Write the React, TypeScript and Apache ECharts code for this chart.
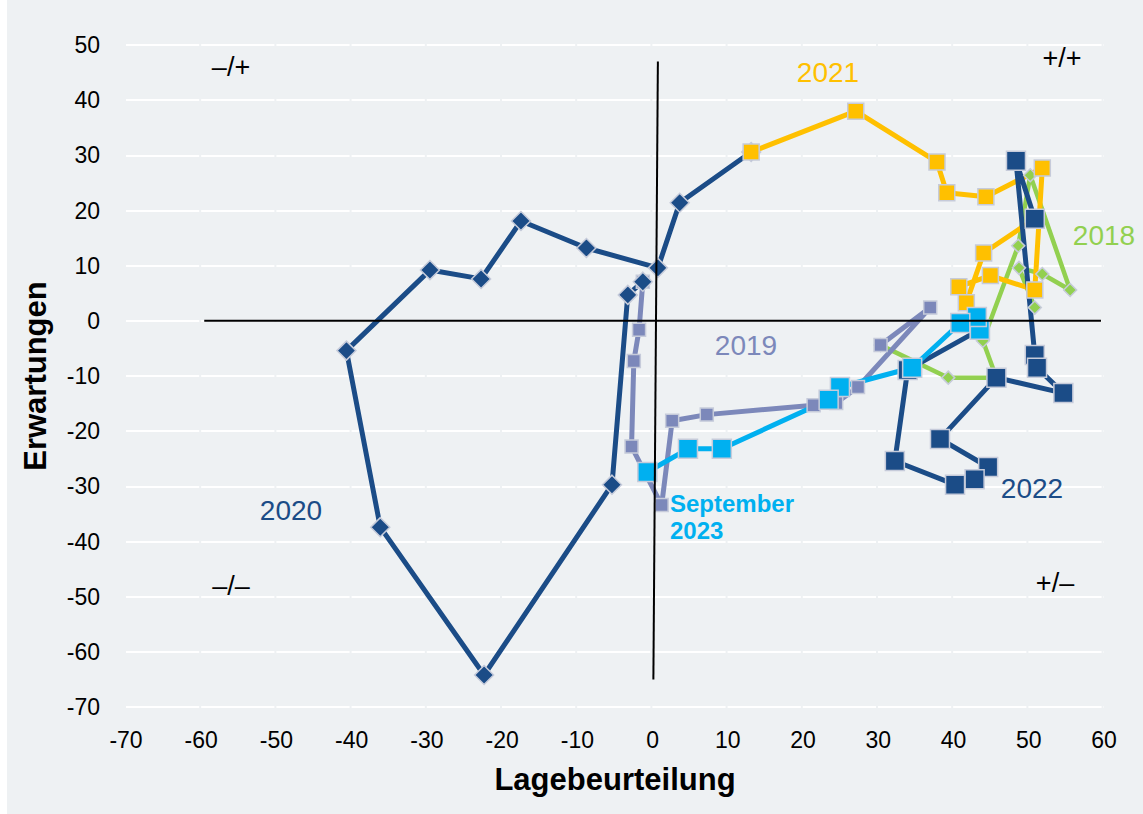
import React, { useEffect, useRef } from "react";
import * as echarts from "echarts";

// Axis ranges / ticks
const xMin = -70, xMax = 60, xStep = 10;
const yMin = -70, yMax = 50, yStep = 10;

// Series values: [Lagebeurteilung, Erwartungen]
const s2018 = [[50.8, 2.4], [48.7, 9.6], [51.8, 8.5], [55.5, 5.6], [50.2, 26.4], [48.6, 13.6], [43.9, -3.6], [45.7, -10.3], [39.3, -10.3], [30.3, -4.4]];
const s2019 = [[30.3, -4.4], [36.9, 2.4], [27.3, -12.0], [24.4, -14.9], [21.4, -15.3], [7.2, -17.0], [2.6, -18.1], [1.2, -33.4], [-2.8, -22.8], [-2.5, -7.3], [-1.8, -1.6], [-1.3, 7.1]];
const s2020 = [[-1.3, 7.1], [-3.3, 4.7], [-5.4, -29.7], [-22.4, -64.2], [-36.2, -37.4], [-40.7, -5.4], [-29.6, 9.2], [-22.8, 7.6], [-17.5, 18.1], [-8.8, 13.2], [0.7, 9.6], [3.6, 21.4], [13.1, 30.6]];
const s2021 = [[13.1, 30.6], [27.0, 38.0], [37.8, 28.8], [39.1, 23.2], [44.3, 22.5], [51.8, 27.7], [50.8, 5.6], [44.9, 8.2], [40.7, 6.2], [41.7, 3.3], [44.0, 12.3], [50.8, 18.5]];
const s2022 = [[50.8, 18.5], [48.3, 29.0], [50.8, -6.2], [51.1, -8.5], [54.6, -13.1], [45.7, -10.3], [38.2, -21.4], [44.6, -26.5], [42.8, -28.7], [40.2, -29.7], [32.2, -25.4], [33.9, -8.9], [43.5, -1.6]];
const s2023 = [[43.5, -1.6], [43.1, 0.7], [40.9, -0.4], [34.5, -8.5], [24.9, -12.0], [23.4, -14.3], [9.2, -23.2], [4.7, -23.2], [-0.7, -27.4]];

// Cross lines (quadrant axes)
const hLine = [[-59.6, 0], [59.6, 0]];
const vLine = [[0.7, 47], [0.1, -65]];

const FONT = "'Liberation Sans', Arial, sans-serif";
const BORDER = "#c6cbda";

function lineSeries(name: string, data: number[][], color: string, symbol: string, size: number, width: number) {
  return {
    name,
    type: "line",
    data,
    symbol,
    symbolSize: size,
    showAllSymbol: true,
    lineStyle: { color, width },
    itemStyle: { color, borderColor: BORDER, borderWidth: 1.5 },
    emphasis: { disabled: true },
    z: 3,
  };
}

function txt(x: number, y: number, text: string, color: string, size: number, weight = "normal", align = "center") {
  return {
    type: "text",
    x,
    y,
    z: 50,
    style: {
      text,
      fill: color,
      font: `${weight} ${size}px ${FONT}`,
      align,
      verticalAlign: "middle",
    },
  };
}

export default function App() {
  const ref = useRef<HTMLDivElement>(null);
  useEffect(() => {
    if (!ref.current) return;
    const chart = echarts.init(ref.current, undefined, { renderer: "svg" });
    chart.setOption({
      animation: false,
      backgroundColor: "#eef1f3",
      textStyle: { fontFamily: FONT },
      grid: { left: 126, right: 39, top: 45, bottom: 107, containLabel: false },
      xAxis: {
        type: "value",
        min: xMin,
        max: xMax,
        interval: xStep,
        axisLine: { show: false },
        axisTick: { show: false },
        splitLine: { show: false },
        axisLabel: { fontSize: 23, color: "#000", margin: 21, fontFamily: FONT },
        name: "Lagebeurteilung",
        nameLocation: "middle",
        nameGap: 57,
        nameTextStyle: { fontSize: 31, fontWeight: "bold", color: "#000", fontFamily: FONT },
      },
      yAxis: {
        type: "value",
        min: yMin,
        max: yMax,
        interval: yStep,
        axisLine: { show: false },
        axisTick: { show: false },
        splitLine: { show: true, lineStyle: { color: "#ffffff", width: 2, type: [73.2, 2] } },
        axisLabel: { fontSize: 23, color: "#000", margin: 26, fontFamily: FONT },
        name: "Erwartungen",
        nameLocation: "middle",
        nameGap: 75,
        nameRotate: 90,
        nameTextStyle: { fontSize: 31, fontWeight: "bold", color: "#000", fontFamily: FONT },
      },
      series: [
        lineSeries("2018", s2018, "#92d050", "diamond", 13, 4.5),
        lineSeries("2019", s2019, "#7c88ba", "rect", 13, 5),
        lineSeries("2020", s2020, "#1b4c87", "diamond", 19, 5),
        lineSeries("2021", s2021, "#ffc000", "rect", 16, 5),
        lineSeries("2022", s2022, "#1b4c87", "rect", 19, 5),
        lineSeries("2023", s2023, "#00b0f0", "rect", 19, 5),
        {
          type: "line",
          data: hLine,
          symbol: "none",
          lineStyle: { color: "#000", width: 2 },
          emphasis: { disabled: true },
          z: 10,
        },
        {
          type: "line",
          data: vLine,
          symbol: "none",
          lineStyle: { color: "#000", width: 2 },
          emphasis: { disabled: true },
          z: 10,
        },
      ],
      graphic: [
        { type: "rect", x: 0, y: 0, z: 60, shape: { width: 7, height: 814 }, style: { fill: "#ffffff" } },
        txt(231, 67, "–/+", "#000", 27),
        txt(1062, 58, "+/+", "#000", 27),
        txt(231, 586, "–/–", "#000", 27),
        txt(1055, 583, "+/–", "#000", 27),
        txt(828, 72, "2021", "#ffc000", 28),
        txt(1104, 235, "2018", "#92d050", 28),
        txt(746, 345, "2019", "#7c88ba", 28),
        txt(291, 510, "2020", "#1b4c87", 28),
        txt(1032, 488, "2022", "#1b4c87", 28),
        txt(670, 503, "September", "#00b0f0", 24, "bold", "left"),
        txt(670, 530, "2023", "#00b0f0", 24, "bold", "left"),
      ],
    });
    return () => chart.dispose();
  }, []);
  return (
    <div
      ref={ref}
      style={{ position: "fixed", left: 0, top: 0, width: 1143, height: 814 }}
    />
  );
}
